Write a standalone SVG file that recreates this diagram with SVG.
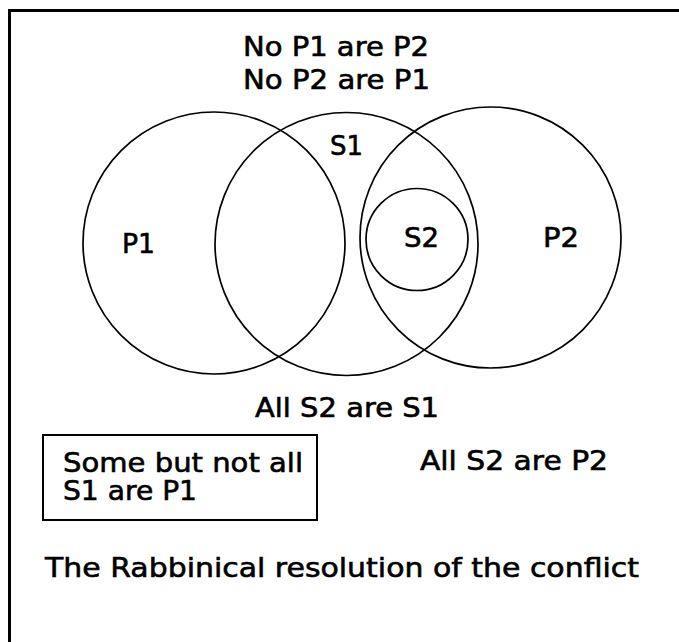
<svg xmlns="http://www.w3.org/2000/svg" width="679" height="642" viewBox="0 0 679 642">
<style>
  .c{fill:none;stroke:#000;stroke-width:1.7}
  .t{font-family:"DejaVu Sans","Liberation Sans",sans-serif;font-size:27px;fill:#000;stroke:#000;stroke-width:0.6}
</style>
<rect x="0" y="0" width="679" height="642" fill="#fff"/>
<g id="frame">
  <path d="M9.5 642 V10.5 H679" fill="none" stroke="#000" stroke-width="3"/>
</g>
<g id="P1"><circle class="c" cx="214" cy="243" r="131"/><text class="t" x="122" y="253" textLength="33" lengthAdjust="spacingAndGlyphs">P1</text></g>
<g id="S1"><circle class="c" cx="346.5" cy="244" r="131.5"/><text class="t" x="330" y="155" textLength="33" lengthAdjust="spacingAndGlyphs">S1</text></g>
<g id="P2"><circle class="c" cx="490.5" cy="237.5" r="130.5"/><text class="t" x="543" y="247" textLength="36" lengthAdjust="spacingAndGlyphs">P2</text></g>
<g id="S2"><circle class="c" cx="417" cy="239.5" r="51"/><text class="t" x="404" y="247" textLength="35" lengthAdjust="spacingAndGlyphs">S2</text></g>
<g id="premises">
  <text class="t" x="243" y="56" textLength="186" lengthAdjust="spacingAndGlyphs">No P1 are P2</text>
  <text class="t" x="243" y="89" textLength="187" lengthAdjust="spacingAndGlyphs">No P2 are P1</text>
  <text class="t" x="255" y="417" textLength="184" lengthAdjust="spacingAndGlyphs">All S2 are S1</text>
  <text class="t" x="420" y="470" textLength="188" lengthAdjust="spacingAndGlyphs">All S2 are P2</text>
</g>
<g id="box">
  <rect x="43" y="435" width="274" height="85" fill="none" stroke="#000" stroke-width="2"/>
  <text class="t" x="63" y="472" textLength="240" lengthAdjust="spacingAndGlyphs">Some but not all</text>
  <text class="t" x="63" y="500" textLength="134" lengthAdjust="spacingAndGlyphs">S1 are P1</text>
</g>
<g id="caption">
  <text class="t" x="45" y="577" textLength="594" lengthAdjust="spacingAndGlyphs">The Rabbinical resolution of the conflict</text>
</g>
</svg>
